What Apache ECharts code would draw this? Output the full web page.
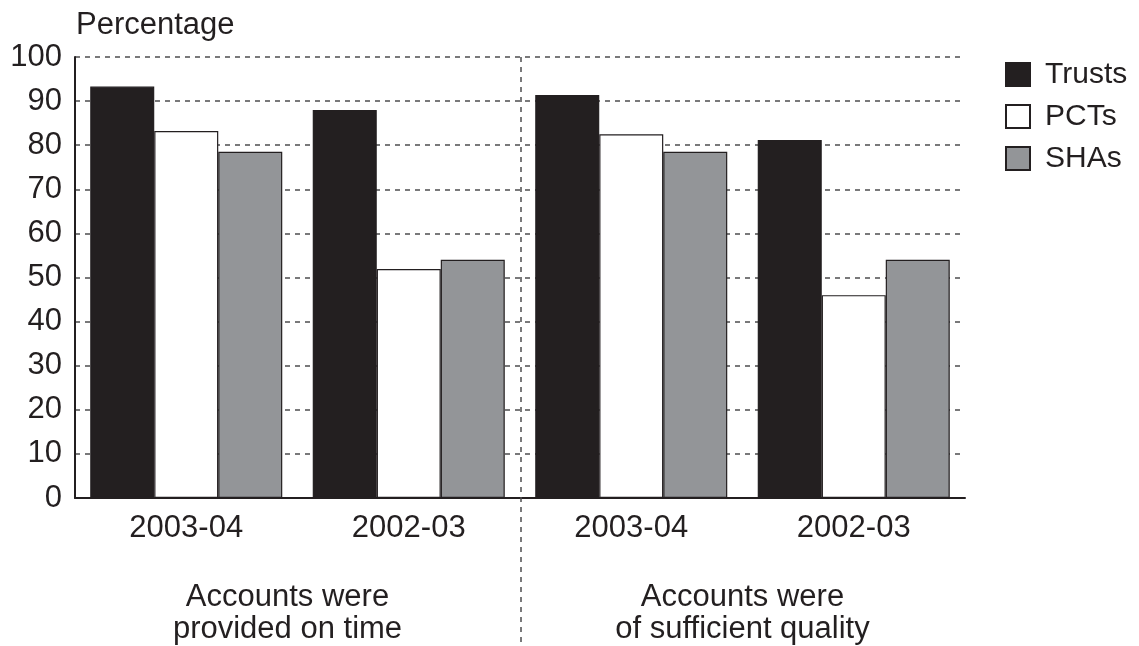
<!DOCTYPE html>
<html>
<head>
<meta charset="utf-8">
<script src="https://cdn.jsdelivr.net/npm/echarts@6/dist/echarts.min.js"></script>
<style>
  html, body { margin: 0; padding: 0; background: #fff; }
  #chart { width: 1139px; height: 646px; }
</style>
</head>
<body>
<div id="chart"></div>
<script>
// categories (two groups of two years each)
const years = ['2003-04', '2002-03', '2003-04', '2002-03'];
const groupLabels = ['Accounts were\nprovided on time', 'Accounts were\nof sufficient quality'];
const seriesNames = ['Trusts', 'PCTs', 'SHAs'];
const trusts = [93.3, 88, 91.4, 81.2];
const pcts = [83.2, 51.9, 82.5, 46];
const shas = [78.5, 54, 78.5, 54];
const colors = ['#231f20', '#ffffff', '#939598'];

const font = '"Liberation Sans", Arial, sans-serif';
const ink = '#231f20';
const chart = echarts.init(document.getElementById('chart'));

const makeSeries = (name, data, i) => ({
    name: name,
    type: 'bar',
    data: data,
    barGap: '0%',
    barCategoryGap: '13.7%',
    itemStyle: { color: colors[i], borderColor: ink, borderWidth: 1.2 },
    emphasis: { disabled: true }
});

const option = {
    animation: false,
    backgroundColor: '#fff',
    textStyle: { fontFamily: font },
    grid: { left: 75, right: 174, top: 57, bottom: 148 },
    legend: {
        orient: 'vertical',
        left: 1000,
        top: 54.5,
        itemWidth: 24,
        itemHeight: 23,
        itemGap: 12,
        icon: 'rect',
        textStyle: { fontSize: 30, color: ink, fontFamily: font, padding: [0, 0, 0, 10] },
        data: seriesNames
    },
    xAxis: {
        type: 'category',
        data: years,
        axisLine: { lineStyle: { color: ink, width: 2 } },
        axisTick: { show: false },
        axisLabel: { fontSize: 31, color: ink, margin: 15, fontFamily: font }
    },
    yAxis: {
        type: 'value',
        min: 0,
        max: 100,
        interval: 10,
        name: 'Percentage',
        nameLocation: 'end',
        nameGap: 16,
        nameTextStyle: { fontSize: 31, color: ink, align: 'left', padding: [0, 0, 0, 1], fontFamily: font },
        axisLine: { show: true, lineStyle: { color: ink, width: 2 } },
        axisTick: { show: false },
        axisLabel: { fontSize: 31, color: ink, margin: 13, fontFamily: font },
        splitLine: { show: true, lineStyle: { color: '#4d4d4f', width: 1.5, type: [5, 5] } }
    },
    series: [
        makeSeries(seriesNames[0], trusts, 0),
        makeSeries(seriesNames[1], pcts, 1),
        makeSeries(seriesNames[2], shas, 2)
    ]
};
chart.setOption(option);

// divider between the two groups and the group captions, placed from the axis scale
const p0 = chart.convertToPixel({ xAxisIndex: 0 }, 0);
const p1 = chart.convertToPixel({ xAxisIndex: 0 }, 1);
const p2 = chart.convertToPixel({ xAxisIndex: 0 }, 2);
const p3 = chart.convertToPixel({ xAxisIndex: 0 }, 3);
const yTop = chart.convertToPixel({ yAxisIndex: 0 }, 100);
const divX = (p1 + p2) / 2 + 1;

chart.setOption({
    graphic: [
        {
            type: 'line',
            shape: { x1: divX, y1: yTop, x2: divX, y2: 646 },
            style: { stroke: '#4d4d4f', lineWidth: 1.5, lineDash: [5, 5] },
            z: 5
        },
        {
            type: 'text',
            x: (p0 + p1) / 2 - 10,
            y: 581,
            style: { text: groupLabels[0], font: '31px ' + font, fill: ink, textAlign: 'center', lineHeight: 32 }
        },
        {
            type: 'text',
            x: (p2 + p3) / 2,
            y: 581,
            style: { text: groupLabels[1], font: '31px ' + font, fill: ink, textAlign: 'center', lineHeight: 32 }
        }
    ]
});
</script>
</body>
</html>
